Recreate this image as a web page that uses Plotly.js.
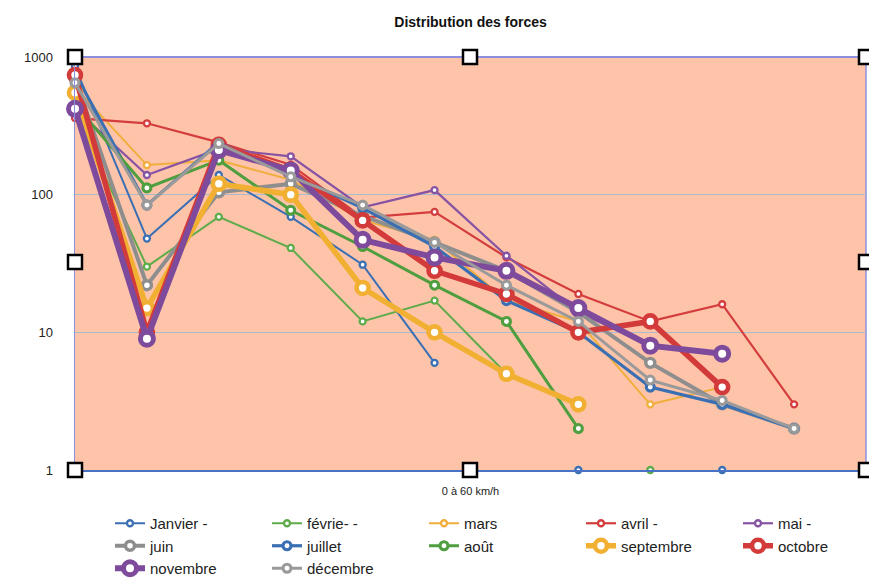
<!DOCTYPE html>
<html><head><meta charset="utf-8">
<script src="https://cdn.plot.ly/plotly-3.0.1.min.js"></script>
<style>html,body{margin:0;padding:0;background:#fff}#c{width:869px;height:578px}</style>
</head><body><div id="c"></div>
<script>
const xIndex = [0,1,2,3,4,5,6,7,8,9,10];
const seriesNames = ["Janvier -","févrie- -","mars","avril -","mai -","juin","juillet","août","septembre","octobre","novembre","décembre"];
const janvier   = [850, 48, 139, 69, 31, 6, null, 1, null, 1, null];
const fevrier   = [400, 30, 69, 41, 12, 17, 5, null, 1, null, null];
const mars      = [600, 164, 178, 128, 65, 47, 17, 12, 3, 4, null];
const avril     = [360, 330, 240, 165, 68, 75, 35, 19, 12, 16, 3];
const mai       = [420, 139, 215, 190, 81, 108, 36, 14, 8, null, null];
const juin      = [700, 22, 104, 120, 70, 45, 28, 14, 6, 3, 2];
const juillet   = [760, 84, 240, 140, 80, 42, 17, 10, 4, 3, 2];
const aout      = [450, 112, 178, 77, 42, 22, 12, 2, null, null, null];
const septembre = [550, 15, 120, 100, 21, 10, 5, 3, null, null, null];
const octobre   = [740, 10, 230, 150, 65, 28, 19, 10, 12, 4, null];
const novembre  = [420, 9, 211, 150, 47, 35, 28, 15, 8, 7, null];
const decembre  = [650, 84, 235, 135, 84, 45, 22, 12, 4.5, 3.2, 2];
const yTickVals = [1, 10, 100, 1000];
const yTickText = ["1", "10", "100", "1000"];
const titleText = "Distribution des forces";
const xTitleText = "0 à 60 km/h";

const allSeries = [janvier, fevrier, mars, avril, mai, juin, juillet, aout, septembre, octobre, novembre, decembre];
const colors = ["#3b6fb3","#5eab4a","#f0ae3d","#d43d3d","#8753a3","#8e8e8e","#3b6fb3","#4f9e3f","#f2b033","#d33a3a","#7e4a9c","#9a9a9a"];
const widths = [2, 2, 2, 2.2, 2.2, 4, 3.2, 3, 5.5, 5.5, 6, 3];
const msizes = [6, 6, 6, 6, 6, 9, 8, 8, 12, 12, 13, 8];

const traces = allSeries.map((ys, i) => ({
  type: 'scatter', mode: 'lines+markers', name: seriesNames[i],
  x: xIndex, y: ys, cliponaxis: false, connectgaps: false,
  line: {color: colors[i], width: widths[i]},
  marker: {symbol: 'circle', size: msizes[i], color: '#ffffff', line: {color: colors[i], width: Math.max(2, msizes[i]/2.6)}}
}));

const L = 75, R = 866, T = 57, B = 470, W = 869, H = 578;
const handles = [[L,T],[470,T],[R,T],[L,262],[R,262],[L,B],[470,B],[R,B]];
const shapes = handles.map(([px,py]) => ({
  type: 'rect', xref: 'paper', yref: 'paper', layer: 'above',
  x0: (px - 7 - L)/(R - L), x1: (px + 7 - L)/(R - L),
  y0: (B - (py + 7))/(B - T), y1: (B - (py - 7))/(B - T),
  fillcolor: '#ffffff', line: {color: '#000000', width: 2.5}
}));

const layout = {
  width: W, height: H,
  margin: {l: L, r: W - R, t: T, b: H - B},
  paper_bgcolor: '#ffffff', plot_bgcolor: '#fec4aa',
  font: {family: 'Liberation Sans, Arial, sans-serif', color: '#222'},
  title: {text: '<b>' + titleText + '</b>', x: 0.5, xref: 'paper', xanchor: 'center', y: 1 - 22/H, yanchor: 'middle', font: {size: 14, color: '#111'}},
  showlegend: true,
  legend: {orientation: 'h', x: 110/W, xref: 'container', y: 1 - 507/H, yref: 'container', yanchor: 'top',
           entrywidth: 112, entrywidthmode: 'pixels', font: {size: 15, color: '#222'}, tracegroupgap: 0, itemwidth: 30},
  xaxis: {range: [0, 11], showticklabels: false, ticks: '', showgrid: false, zeroline: false,
          showline: true, linecolor: '#4a72c4', linewidth: 2, mirror: false,
          title: {text: xTitleText, font: {size: 11, color: '#222'}, standoff: 16}},
  yaxis: {type: 'log', range: [0, 3], tickvals: yTickVals, ticktext: yTickText, ticks: '',
          showgrid: true, gridcolor: '#a9bccb', gridwidth: 1.2, zeroline: false,
          showline: true, linecolor: '#8b8fdc', linewidth: 1.5, mirror: false,
          ticklabelstandoff: 18, tickfont: {size: 13, color: '#222'}},
  shapes: [
    {type:'line', xref:'paper', yref:'paper', x0:0, x1:1, y0:1, y1:1, line:{color:'#8b8fdc', width:2}, layer:'below'},
    {type:'line', xref:'paper', yref:'paper', x0:1, x1:1, y0:0, y1:1, line:{color:'#8b8fdc', width:1.5}, layer:'below'}
  ].concat(shapes)
};
Plotly.newPlot('c', traces, layout, {displayModeBar: false, staticPlot: true});
</script></body></html>
